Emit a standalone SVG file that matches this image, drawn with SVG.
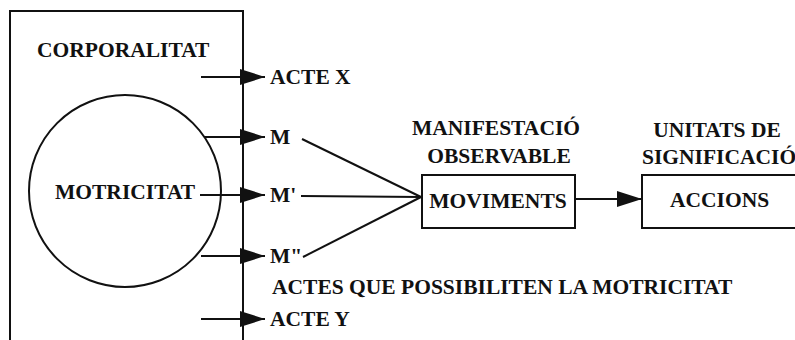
<svg xmlns="http://www.w3.org/2000/svg" width="795" height="340" viewBox="0 0 795 340">
<defs>
<marker id="ah" markerUnits="userSpaceOnUse" markerWidth="26" markerHeight="18" refX="25" refY="8" orient="auto">
<path d="M0,0 L25,8 L0,16 z" fill="#111"/>
</marker>
</defs>
<rect width="795" height="340" fill="#fff"/>
<g id="corporalitat">
<rect x="10" y="11" width="233" height="345" fill="none" stroke="#111" stroke-width="2"/>
<text x="37" y="57" font-family="Liberation Serif, serif" font-weight="bold" font-size="21.5" fill="#111">CORPORALITAT</text>
</g>
<g id="motricitat">
<circle cx="125" cy="191" r="96" fill="none" stroke="#111" stroke-width="2"/>
<text x="55" y="199" font-family="Liberation Serif, serif" font-weight="bold" font-size="21.5" fill="#111">MOTRICITAT</text>
</g>
<g id="acte-x"><text x="270" y="84" font-family="Liberation Serif, serif" font-weight="bold" font-size="21.5" fill="#111">ACTE X</text></g>
<g id="m1"><text x="270" y="144" font-family="Liberation Serif, serif" font-weight="bold" font-size="21.5" fill="#111">M</text></g>
<g id="m2"><text x="270" y="202" font-family="Liberation Serif, serif" font-weight="bold" font-size="21.5" fill="#111">M'</text></g>
<g id="m3"><text x="270" y="263" font-family="Liberation Serif, serif" font-weight="bold" font-size="21.5" fill="#111">M"</text></g>
<g id="actes-label"><text x="272" y="294" font-family="Liberation Serif, serif" font-weight="bold" font-size="21.5" fill="#111">ACTES QUE POSSIBILITEN LA MOTRICITAT</text></g>
<g id="acte-y"><text x="270" y="326" font-family="Liberation Serif, serif" font-weight="bold" font-size="21.5" fill="#111">ACTE Y</text></g>
<g id="moviments">
<text x="496" y="135" font-family="Liberation Serif, serif" font-weight="bold" font-size="21.5" fill="#111" text-anchor="middle">MANIFESTACIÓ</text>
<text x="499" y="163" font-family="Liberation Serif, serif" font-weight="bold" font-size="21.5" fill="#111" text-anchor="middle">OBSERVABLE</text>
<rect x="422" y="175" width="153" height="53" fill="none" stroke="#111" stroke-width="2"/>
<text x="498" y="208" font-family="Liberation Serif, serif" font-weight="bold" font-size="21.5" fill="#111" text-anchor="middle">MOVIMENTS</text>
</g>
<g id="accions">
<text x="717" y="137" font-family="Liberation Serif, serif" font-weight="bold" font-size="21.5" fill="#111" text-anchor="middle">UNITATS DE</text>
<text x="642" y="164" font-family="Liberation Serif, serif" font-weight="bold" font-size="21.5" fill="#111">SIGNIFICACIÓ</text>
<rect x="642" y="175" width="170" height="53" fill="none" stroke="#111" stroke-width="2"/>
<text x="670" y="207" font-family="Liberation Serif, serif" font-weight="bold" font-size="21.5" fill="#111">ACCIONS</text>
</g>
<g id="connectors" stroke="#111" stroke-width="2" fill="none">
<line x1="201" y1="77" x2="265" y2="77" marker-end="url(#ah)"/>
<line x1="204" y1="137" x2="265" y2="137" marker-end="url(#ah)"/>
<line x1="200" y1="195" x2="265" y2="195" marker-end="url(#ah)"/>
<line x1="201" y1="256" x2="265" y2="256" marker-end="url(#ah)"/>
<line x1="201" y1="319" x2="265" y2="319" marker-end="url(#ah)"/>
<line x1="302" y1="139" x2="421" y2="197"/>
<line x1="301" y1="196" x2="421" y2="197"/>
<line x1="303" y1="257" x2="421" y2="197"/>
<line x1="575" y1="199" x2="642" y2="199" marker-end="url(#ah)"/>
</g>
</svg>
